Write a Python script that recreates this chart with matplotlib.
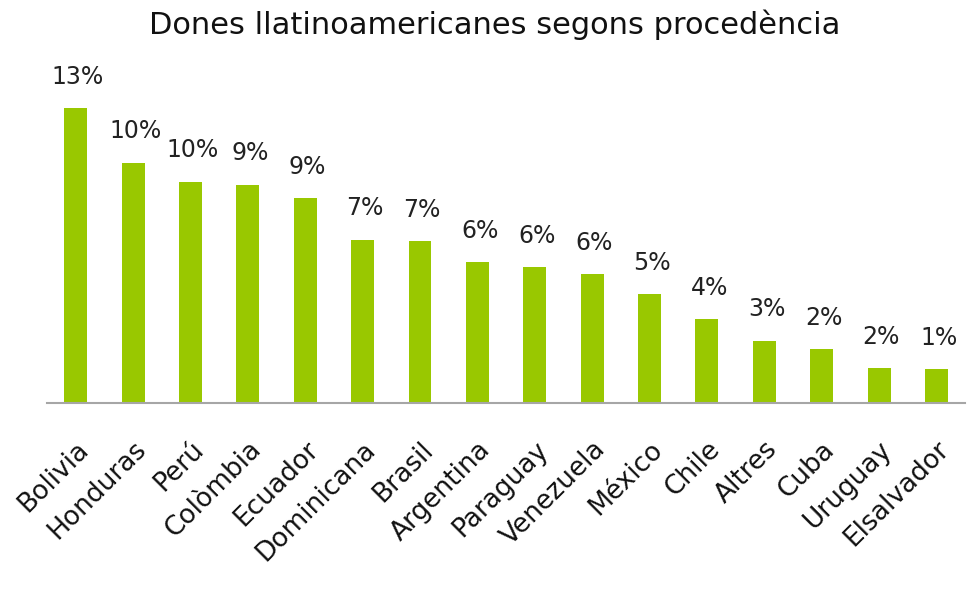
import matplotlib
matplotlib.use("Agg")
import matplotlib.pyplot as plt

# Data
countries = ["Bolivia", "Honduras", "Perú", "Colòmbia", "Ecuador", "Dominicana",
             "Brasil", "Argentina", "Paraguay", "Venezuela", "México", "Chile",
             "Altres", "Cuba", "Uruguay", "Elsalvador"]
values = [13.0, 10.59, 9.75, 9.62, 9.04, 7.20, 7.12, 6.20, 5.99, 5.67,
          4.78, 3.70, 2.75, 2.37, 1.53, 1.49]
labels = ["13%", "10%", "10%", "9%", "9%", "7%", "7%", "6%", "6%", "6%",
          "5%", "4%", "3%", "2%", "2%", "1%"]

plt.rcParams['font.family'] = ['DejaVu Sans']

fig = plt.figure(figsize=(9.69, 5.90), dpi=100)
ax = fig.add_axes([0.0485, 0.317, 0.9475, 0.577])

x = range(len(countries))
ax.bar(x, values, width=0.4, color='#99C800')

for i, v in enumerate(values):
    ax.text(i + 0.04, v + 0.85, labels[i], ha='center', va='bottom',
            fontsize=17, color='#222222')

ax.set_xlim(-0.5, len(countries) - 0.5)
ax.set_ylim(0, 15)
ax.set_yticks([])
ax.set_xticks(list(x))
ax.set_xticklabels(countries, rotation=45, ha='right', rotation_mode='anchor',
                   fontsize=19, color='#111111')
ax.tick_params(axis='x', length=0, pad=24)

for s in ['top', 'right', 'left']:
    ax.spines[s].set_visible(False)
ax.spines['bottom'].set_color('#a6a6a6')
ax.spines['bottom'].set_linewidth(1.5)

fig.text(0.511, 0.958, "Dones llatinoamericanes segons procedència",
         ha='center', va='center', fontsize=22, color='#111111')

fig.savefig('out.png', dpi=100)
